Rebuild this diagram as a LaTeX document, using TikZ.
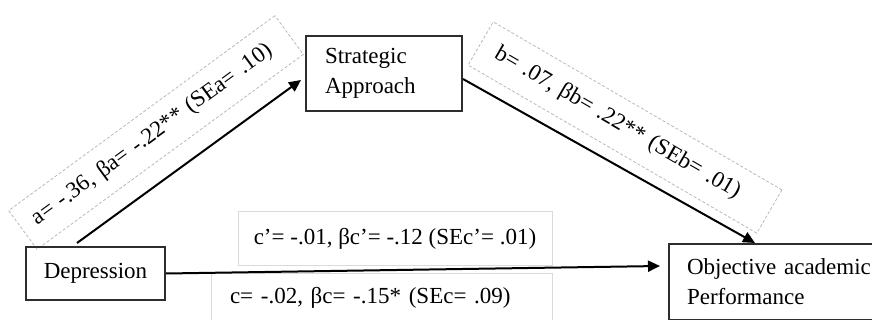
\documentclass[tikz,border=0pt]{standalone}
\usepackage{fontspec}
\setmainfont{Liberation Serif}
\usetikzlibrary{arrows.meta}
\definecolor{boxline}{RGB}{45,45,45}
\definecolor{lblline}{RGB}{185,185,185}
\definecolor{cline}{RGB}{218,218,218}

\begin{document}
\begin{tikzpicture}[x=0.5pt,y=-0.5pt,
    every node/.style={font=\fontsize{11.5}{15}\selectfont},
    var/.style={draw=boxline,line width=1pt,inner sep=0pt},
    lbl/.style={draw=lblline,dash pattern=on 1.5pt off 1pt,line width=0.4pt,inner sep=0pt,align=left},
    cbox/.style={draw=cline,line width=0.5pt,inner sep=0pt},
    link/.style={line width=1pt,-{Triangle[length=6pt,width=5.5pt]}}]
  \useasboundingbox (0,0) rectangle (872,320);
  \clip (0,0) rectangle (872,320);

  %labels of the paths
  \node[lbl,rotate=36.2,text width=150.4pt,inner xsep=7.3pt,minimum height=24pt] (la) at (156,132.5){a= -.36, βa= -.22** (SEa= .10)};
  \node[lbl,rotate=-30.2,text width=149pt,inner xsep=9pt,minimum height=25pt] (lb) at (625,127.5){b= .07, βb= .22** (SEb= .01)};
  \node[cbox,minimum width=157pt,minimum height=26.5pt] (lcp) at (395,238.5){c'= -.01, βc'= -.12 (SEc'= .01)};
  \node[cbox,text width=151.5pt,inner xsep=9.5pt,align=left,minimum height=24.5pt] (lc) at (381.5,297.5){c= -.02, βc= -.15* (SEc= .09)};

  %variables
  \node[var,minimum width=69.5pt,minimum height=26.5pt] (dep) at (95.5,273.5){Depression};
  \node[var,text width=59pt,inner xsep=9.5pt,minimum height=37.5pt,align=left] (sa) at (384,73.5){Strategic\\Approach};
  \node[var,anchor=north west,text width=93pt,inner xsep=9pt,inner ysep=7.5pt,align=left] (oap) at (668,243){Objective academic\\Performance};

  \draw[link] ([xshift=-9.25pt,yshift=1.5pt]dep.north)--([xshift=-2pt,yshift=-3.25pt]sa.west);
  \draw[link] ([yshift=-2.75pt]sa.east)--([xshift=43.5pt]oap.north west);
  \draw[link] (dep.east)--([xshift=-4pt,yshift=-11.5pt]oap.north west);
\end{tikzpicture}
\end{document}
